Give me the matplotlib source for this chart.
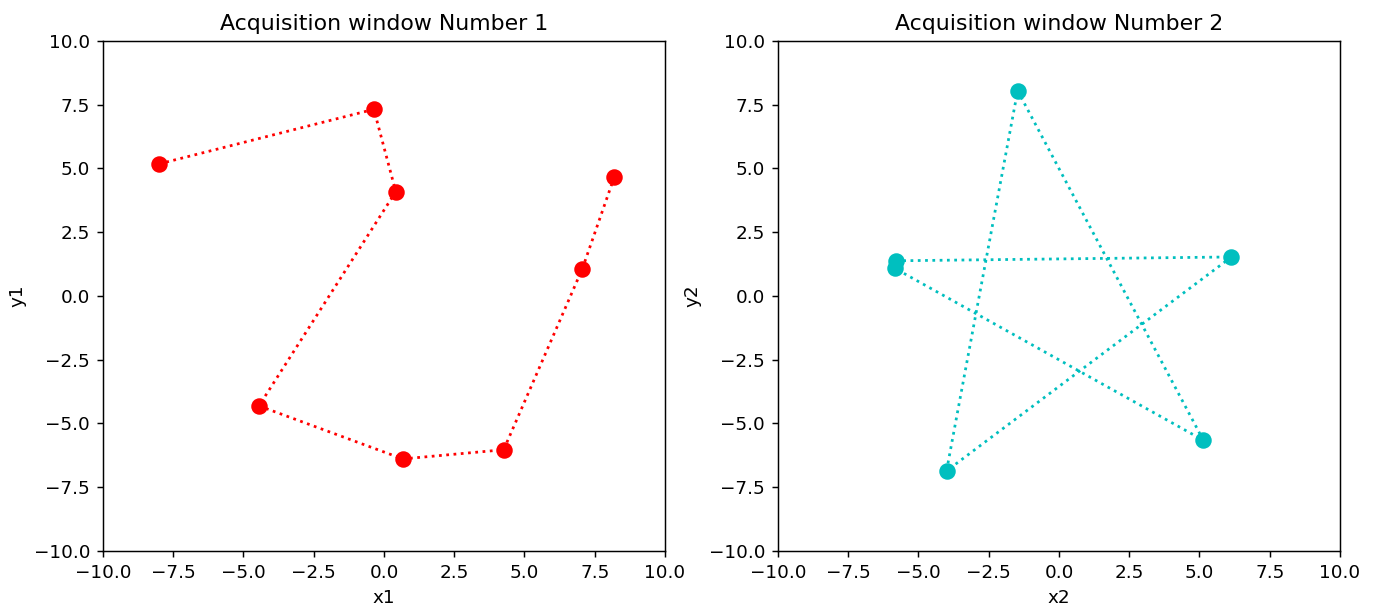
import matplotlib
matplotlib.use("Agg")
import matplotlib.pyplot as plt

# window 1 samples
x1 = [-8.00, -0.36, 0.42, -4.45, 0.67, 4.26, 7.06, 8.19]
y1 = [5.18, 7.32, 4.09, -4.31, -6.39, -6.03, 1.07, 4.65]

# window 2 samples
x2 = [-5.80, 6.14, -4.00, -1.47, 5.14, -5.85]
y2 = [1.38, 1.53, -6.86, 8.05, -5.66, 1.09]

DPI = 132
fig, axes = plt.subplots(1, 2, figsize=(1375 / DPI, 607 / DPI), dpi=DPI)

for ax, xs, ys, color, idx in [(axes[0], x1, y1, "r", 1), (axes[1], x2, y2, "c", 2)]:
    ax.plot(xs, ys, ":o", color=color, linewidth=1.5, markersize=8)
    ax.set_xlim(-10, 10)
    ax.set_ylim(-10, 10)
    ax.set_title(f"Acquisition window Number {idx}")
    ax.set_xlabel(f"x{idx}")
    ax.set_ylabel(f"y{idx}")

plt.subplots_adjust(left=0.0749, right=0.9745, top=0.9325, bottom=0.0923, wspace=0.201)
fig.savefig("out.png", dpi=DPI)
